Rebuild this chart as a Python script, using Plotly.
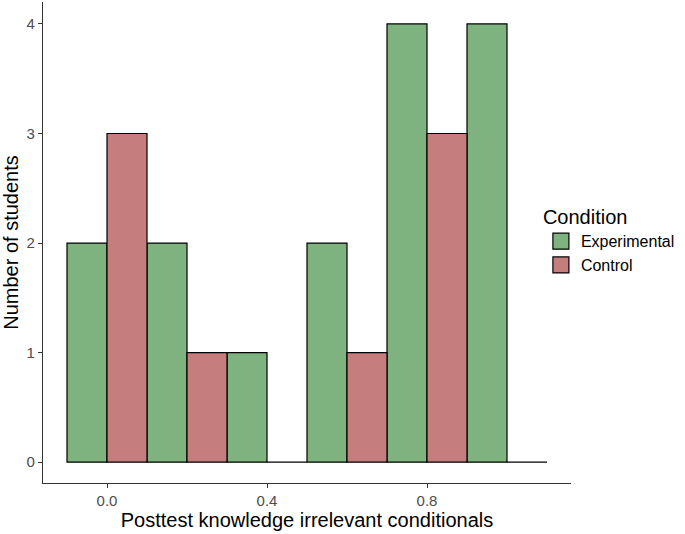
import plotly.graph_objects as go

# bin centres of the histogram (binwidth 0.2), counts per condition
bin_centres = [0.0, 0.2, 0.4, 0.6, 0.8, 1.0]
experimental = [2, 2, 1, 2, 4, 4]
control = [3, 1, 0, 1, 3, 0]

x_ticks = [0.0, 0.4, 0.8]
x_tick_labels = ["0.0", "0.4", "0.8"]
y_ticks = [0, 1, 2, 3, 4]

GREEN = "#7eb27e"
RED = "#c67d7d"
FONT = "Liberation Sans, Arial, sans-serif"

fig = go.Figure()
for name, counts, offset, colour in [
    ("Experimental", experimental, -0.1, GREEN),
    ("Control", control, 0.0, RED),
]:
    fig.add_trace(go.Bar(
        x=bin_centres, y=counts, name=name, width=0.1, offset=offset,
        marker=dict(color=colour, line=dict(color="black", width=1.2)),
        showlegend=False,
    ))
    # legend-only entry so the key is a bigger square, like ggplot's
    fig.add_trace(go.Scatter(
        x=[None], y=[None], mode="markers", name=name,
        marker=dict(symbol="square", size=16, color=colour,
                    line=dict(color="black", width=1.2)),
    ))

axis_common = dict(
    showgrid=False, zeroline=False, showline=True, linecolor="#333333", linewidth=1.2,
    ticks="outside", ticklen=4, tickcolor="#333333", tickwidth=1.1,
    tickfont=dict(family=FONT, size=15, color="#4d4d4d"),
    automargin=False,
)

fig.update_layout(
    width=685, height=534,
    plot_bgcolor="white", paper_bgcolor="white",
    margin=dict(l=43, r=114, t=2, b=51),
    barmode="overlay",
    font=dict(family=FONT),
    xaxis=dict(
        range=[-0.16, 1.16], tickvals=x_ticks, ticktext=x_tick_labels,
        title=dict(text="Posttest knowledge irrelevant conditionals",
                   font=dict(family=FONT, size=20, color="black"), standoff=4),
        **axis_common,
    ),
    yaxis=dict(
        range=[-0.19, 4.2], tickvals=y_ticks,
        title=dict(text="Number of students",
                   font=dict(family=FONT, size=20, color="black"), standoff=6),
        **axis_common,
    ),
    legend=dict(
        title=dict(text="Condition", font=dict(family=FONT, size=20, color="black")),
        font=dict(family=FONT, size=16, color="black"),
        x=0.943, y=0.592, xanchor="left", yanchor="top",
        bgcolor="rgba(0,0,0,0)", traceorder="normal", itemsizing="trace",
    ),
)

fig.write_html("out.html", config={"displayModeBar": False},
               post_script="document.body.style.margin='0';")
